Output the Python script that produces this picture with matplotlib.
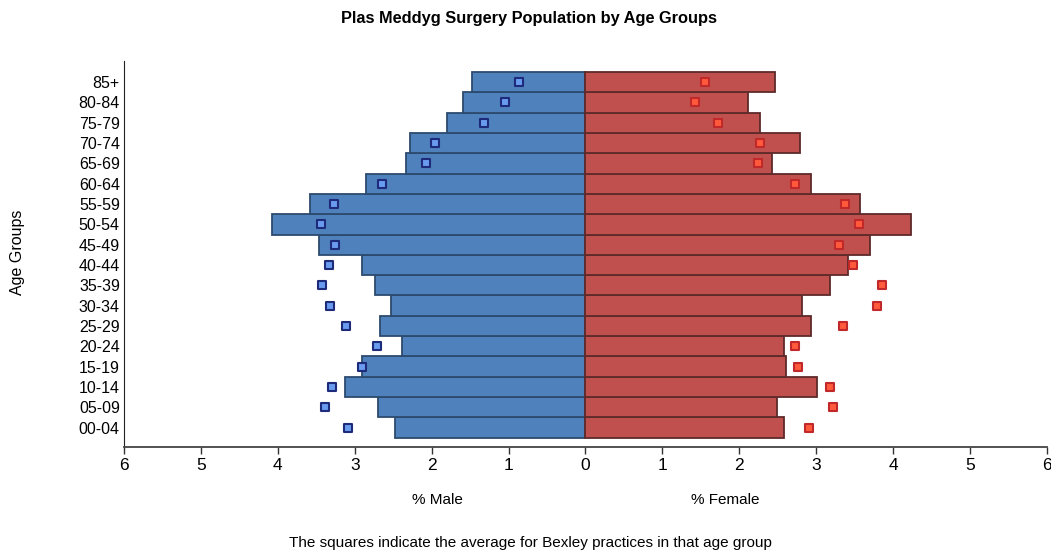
import matplotlib.pyplot as plt
import numpy as np

plt.rcParams["font.family"] = ["Liberation Sans", "DejaVu Sans"]

age_groups = ["00-04", "05-09", "10-14", "15-19", "20-24", "25-29", "30-34",
              "35-39", "40-44", "45-49", "50-54", "55-59", "60-64", "65-69",
              "70-74", "75-79", "80-84", "85+"]

male_pct = [2.47, 2.70, 3.12, 2.91, 2.38, 2.67, 2.53, 2.74, 2.91, 3.47,
            4.08, 3.58, 2.85, 2.33, 2.28, 1.80, 1.59, 1.47]
female_pct = [2.58, 2.49, 3.01, 2.61, 2.58, 2.94, 2.82, 3.18, 3.42, 3.70,
              4.24, 3.57, 2.93, 2.43, 2.79, 2.27, 2.12, 2.46]

# moyenne Bexley (carrés)
male_avg = [3.09, 3.38, 3.30, 2.90, 2.71, 3.11, 3.32, 3.43, 3.33, 3.25,
            3.44, 3.27, 2.65, 2.07, 1.95, 1.32, 1.04, 0.87]
female_avg = [2.91, 3.22, 3.18, 2.77, 2.73, 3.35, 3.79, 3.86, 3.48, 3.30,
              3.56, 3.38, 2.73, 2.25, 2.27, 1.73, 1.42, 1.56]

x_ticks = [-6, -5, -4, -3, -2, -1, 0, 1, 2, 3, 4, 5, 6]

fig = plt.figure(figsize=(10.51, 5.53), dpi=100)
ax = fig.add_axes([0.118, 0.192, 0.878, 0.698])

y = np.arange(len(age_groups))
male = -np.array(male_pct)

ax.barh(y, male, height=1.0, color="#4F81BD", edgecolor="#2C4A6E", linewidth=1.3)
ax.barh(y, female_pct, height=1.0, color="#C0504D", edgecolor="#5E2A2A", linewidth=1.3)

ax.scatter(-np.array(male_avg), y, marker="s", s=30, color="#6A9BEF",
           edgecolors="#1E2A7A", linewidths=1.5, zorder=3)
ax.scatter(female_avg, y, marker="s", s=30, color="#FF5A3C",
           edgecolors="#C0282A", linewidths=1.5, zorder=3)

ax.set_xlim(-6, 6)
ax.set_ylim(-0.95, 18.05)
ax.set_xticks(x_ticks)
ax.set_xticklabels([str(abs(t)) for t in x_ticks], fontsize=12.5)
ax.set_yticks(y)
ax.set_yticklabels(age_groups, fontsize=11.5)
ax.tick_params(axis="y", length=0, pad=3)
ax.tick_params(axis="x", length=5, width=1, color="#333333", pad=3)

for side in ["top", "right"]:
    ax.spines[side].set_visible(False)
ax.spines["left"].set_color("#222222")
ax.spines["bottom"].set_color("#444444")
ax.spines["bottom"].set_linewidth(1.3)

fig.text(0.503, 0.967, "Plas Meddyg Surgery Population by Age Groups",
         ha="center", va="center", fontsize=11.8, fontweight="bold")
fig.text(0.017, 0.543, "Age Groups", rotation=90, ha="center", va="center", fontsize=11.5)
fig.text(0.416, 0.095, "% Male", ha="center", va="center", fontsize=11)
fig.text(0.690, 0.095, "% Female", ha="center", va="center", fontsize=11)
fig.text(0.505, 0.018, "The squares indicate the average for Bexley practices in that age group",
         ha="center", va="center", fontsize=11)

fig.savefig("out.png", dpi=100)
